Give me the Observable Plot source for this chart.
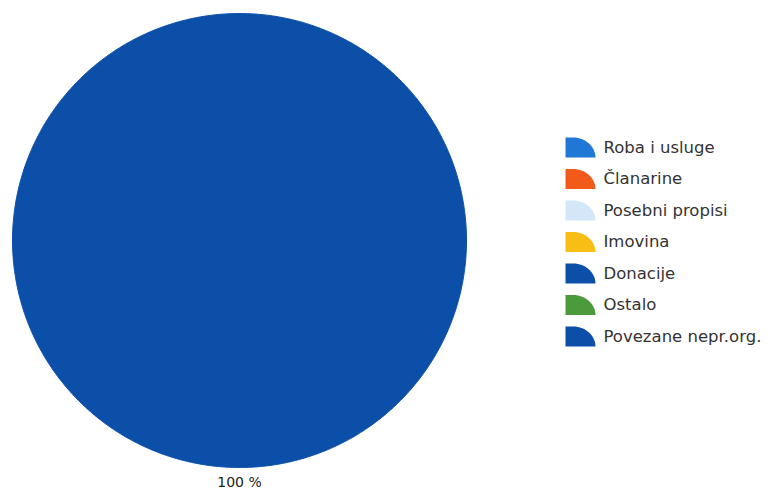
<!DOCTYPE html>
<html>
<head>
<meta charset="utf-8">
<script src="https://cdn.jsdelivr.net/npm/d3@7"></script>
<script src="https://cdn.jsdelivr.net/npm/@observablehq/plot@0.6"></script>
<style>
  html, body { margin: 0; padding: 0; background: #fff; }
  #chart { width: 774px; height: 492px; }
</style>
</head>
<body>
<div id="chart"></div>
<script>
// ---- data ----
const categories = ["Roba i usluge", "Članarine", "Posebni propisi", "Imovina", "Donacije", "Ostalo", "Povezane nepr.org."];
const shares = [0, 0, 0, 0, 100, 0, 0];
const colors = ["#1f78d6", "#f25a1c", "#d3e7f8", "#f8be14", "#0b4fa8", "#4b9b3c", "#0b4fa8"];

// ---- layout ----
const W = 774, H = 492;
const cx = 239, cy = 240, R = 227;
const legendX = 580, legendTextX = 603, legendY0 = 147, legendStep = 31.5;

const rows = categories.map((name, i) => ({name, value: shares[i], color: colors[i], i}));
const total = d3.sum(rows, d => d.value);
const arcs = d3.pie().sort(null).value(d => d.value)(rows).filter(a => a.data.value > 0);

// polygon points for each slice
const pts = [];
for (const a of arcs) {
  const full = a.endAngle - a.startAngle >= 2 * Math.PI - 1e-9;
  const n = Math.max(2, Math.ceil((a.endAngle - a.startAngle) / (Math.PI / 360)));
  if (!full) pts.push({name: a.data.name, color: a.data.color, x: cx, y: cy});
  for (let k = 0; k <= (full ? n - 1 : n); k++) {
    const t = a.startAngle + (a.endAngle - a.startAngle) * k / n;
    pts.push({name: a.data.name, color: a.data.color, x: cx + R * Math.sin(t), y: cy - R * Math.cos(t)});
  }
}

const labels = arcs.map(a => {
  const m = (a.startAngle + a.endAngle) / 2;
  const rr = R + 15;
  return {text: `${Math.round(a.data.value / total * 100)} %`, x: cx + rr * Math.sin(m), y: cy - rr * Math.cos(m)};
});

// quarter-pie legend symbol
const quarter = {
  draw(context) {
    const w = 30, h = 20;
    const x0 = -w / 2, y0 = h / 2;
    context.moveTo(x0, y0);
    context.lineTo(x0, y0 - h);
    context.lineTo(x0 + 0.25 * w, y0 - h);
    context.bezierCurveTo(x0 + 0.7 * w, y0 - h, x0 + w, y0 - 0.5 * h, x0 + w, y0);
    context.closePath();
  }
};

const plot = Plot.plot({
  width: W, height: H,
  margin: 0,
  x: {domain: [0, W], range: [0, W], axis: null},
  y: {domain: [0, H], range: [0, H], axis: null},
  color: {type: "identity"},
  marks: [
    Plot.line(pts, {x: "x", y: "y", z: "name", fill: "color", stroke: "color", strokeWidth: 1, curve: "linear-closed"}),
    Plot.text(labels, {x: "x", y: "y", text: "text", fontSize: 14, fontFamily: "DejaVu Sans", fill: "#222"}),
    Plot.dot(rows, {x: () => legendX, y: d => legendY0 + d.i * legendStep, symbol: quarter, fill: "color", stroke: null, r: 10}),
    Plot.text(rows, {x: () => legendTextX, y: d => legendY0 + d.i * legendStep, text: "name", textAnchor: "start", fontSize: 16.5, fontFamily: "DejaVu Sans", fill: "#333"})
  ]
});
document.getElementById("chart").appendChild(plot);
</script>
</body>
</html>
